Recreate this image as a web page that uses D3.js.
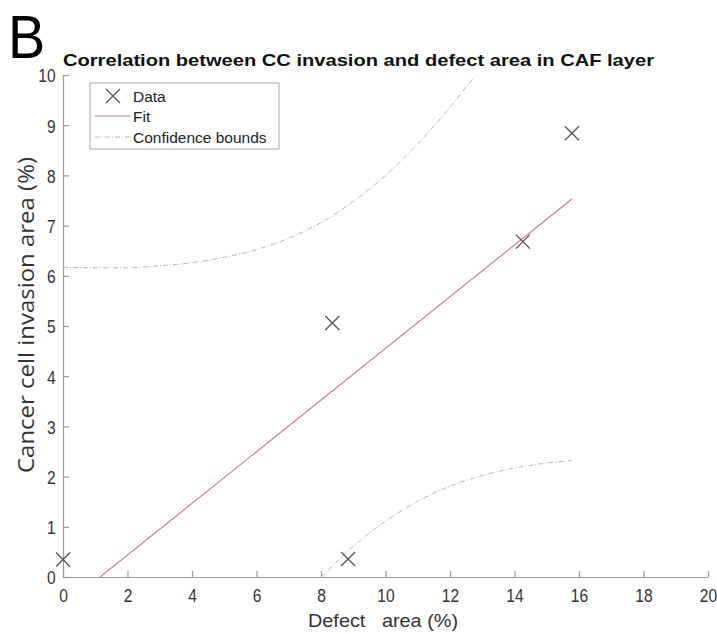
<!DOCTYPE html>
<html><head><meta charset="utf-8">
<script src="https://cdn.jsdelivr.net/npm/d3@7"></script>
<style>
html,body{margin:0;padding:0;background:#fff;}
svg{display:block;font-family:"Liberation Sans",Arial,sans-serif;}
</style></head>
<body>
<svg id="chart" width="717" height="634"></svg>
<script>
// ---- data ----
const dataX = [0, 8.35, 8.84, 14.26, 15.78];
const dataY = [0.35, 5.06, 0.36, 6.68, 8.84];
const fitX = [1.15, 15.78];
const fitY = [0, 7.53];
const upperX = [0, 1, 2, 3, 4, 5, 6, 7, 8, 9, 10, 11, 12, 13];
const upperY = [6.17, 6.16, 6.16, 6.20, 6.26, 6.37, 6.52, 6.75, 7.06, 7.48, 8.00, 8.63, 9.36, 10.17];
const lowerX = [8, 8.5, 9, 10, 11, 12, 13, 14, 15, 15.78];
const lowerY = [0, 0.31, 0.61, 1.11, 1.51, 1.81, 2.02, 2.17, 2.27, 2.32];
const xTicks = [0, 2, 4, 6, 8, 10, 12, 14, 16, 18, 20];
const yTicks = [0, 1, 2, 3, 4, 5, 6, 7, 8, 9, 10];
const legendLabels = ["Data", "Fit", "Confidence bounds"];
const titleText = "Correlation between CC invasion and defect area in CAF layer";
const xLabel = "Defect\u00a0\u00a0 area (%)";
const yLabel = "Cancer cell invasion area (%)";
const panelLetter = "B";

// ---- layout ----
const svg = d3.select("#chart");
const L = 63, R = 708, T = 75, B = 577;
const x = d3.scaleLinear().domain([0, 20]).range([L, R]);
const y = d3.scaleLinear().domain([0, 10]).range([B, T]);

const axisColor = "#9a9a9a", textColor = "#333";

svg.append("defs").append("clipPath").attr("id", "plotclip")
  .append("rect").attr("x", L).attr("y", T).attr("width", R - L).attr("height", B - T);

// panel letter
svg.append("text").attr("transform", "translate(8,58) scale(0.9,1)").attr("font-size", 62)
  .attr("font-family", "'Liberation Sans',Arial,sans-serif")
  .attr("fill", "#000").text(panelLetter);

// title
svg.append("text").attr("x", 63).attr("y", 66).attr("font-size", 17).attr("font-weight", "bold")
  .attr("fill", "#111").attr("textLength", 591).attr("lengthAdjust", "spacingAndGlyphs").text(titleText);

// axes
const xAxis = svg.append("g").attr("transform", `translate(0,${B})`)
  .call(d3.axisBottom(x).tickValues(xTicks).tickSizeInner(-6).tickSizeOuter(0).tickPadding(12));
const yAxis = svg.append("g").attr("transform", `translate(${L},0)`)
  .call(d3.axisLeft(y).tickValues(yTicks).tickSizeInner(-6).tickSizeOuter(0).tickPadding(9));
[xAxis, yAxis].forEach(g => {
  g.select(".domain").attr("stroke", axisColor).attr("stroke-width", 1.2);
  g.selectAll(".tick line").attr("stroke", axisColor).attr("stroke-width", 1.2);
  g.selectAll(".tick text").attr("fill", textColor).style("font-size", "19px")
    .style("font-family", "'Liberation Sans',Arial,sans-serif");
});
xAxis.selectAll(".tick text").attr("transform", "scale(0.82,1)");
yAxis.selectAll(".tick text").attr("transform", "scale(0.82,1)").attr("dy", "0.36em");

// axis labels
svg.append("text").attr("x", 383).attr("y", 627).attr("text-anchor", "middle")
  .attr("font-size", 19).attr("fill", textColor)
  .attr("textLength", 150).attr("lengthAdjust", "spacingAndGlyphs").text(xLabel);
svg.append("text").attr("transform", "translate(34,315) rotate(-90)").attr("text-anchor", "middle")
  .attr("font-size", 21).attr("fill", textColor)
  .attr("font-family", "'Open Sans','Liberation Sans',sans-serif")
  .attr("textLength", 316).attr("lengthAdjust", "spacingAndGlyphs").text(yLabel);

// plot content
const plot = svg.append("g").attr("clip-path", "url(#plotclip)");
const line = d3.line().x(d => x(d[0])).y(d => y(d[1])).curve(d3.curveMonotoneX);

const boundStyle = sel => sel.attr("fill", "none").attr("stroke", "#b8b8b8").attr("stroke-width", 1)
  .attr("stroke-dasharray", "5,2,1,2");
plot.append("path").datum(upperX.map((v, i) => [v, upperY[i]])).attr("d", line).call(boundStyle);
plot.append("path").datum(lowerX.map((v, i) => [v, lowerY[i]])).attr("d", line).call(boundStyle);

plot.append("path").datum(fitX.map((v, i) => [v, fitY[i]])).attr("d", d3.line().x(d => x(d[0])).y(d => y(d[1])))
  .attr("fill", "none").attr("stroke", "#c47c84").attr("stroke-width", 1.1);

const s = 7;
const markers = svg.append("g");
dataX.forEach((v, i) => {
  const cx = x(v), cy = y(dataY[i]);
  markers.append("path")
    .attr("d", `M${cx - s},${cy - s}L${cx + s},${cy + s}M${cx - s},${cy + s}L${cx + s},${cy - s}`)
    .attr("stroke", "#555").attr("stroke-width", 1.3).attr("fill", "none");
});

// legend
const lg = svg.append("g");
lg.append("rect").attr("x", 90).attr("y", 83).attr("width", 189).attr("height", 66)
  .attr("fill", "#fff").attr("stroke", "#aaa").attr("stroke-width", 1);
const rowY = [96, 116, 137];
legendLabels.forEach((t, i) => {
  lg.append("text").attr("x", 133).attr("y", rowY[i]).attr("dy", "0.36em")
    .attr("font-size", 15.5).attr("fill", "#222").text(t);
});
{
  const cx = 113, cy = rowY[0];
  lg.append("path").attr("d", `M${cx - s},${cy - s}L${cx + s},${cy + s}M${cx - s},${cy + s}L${cx + s},${cy - s}`)
    .attr("stroke", "#555").attr("stroke-width", 1.3);
}
lg.append("line").attr("x1", 95).attr("x2", 130).attr("y1", rowY[1]).attr("y2", rowY[1])
  .attr("stroke", "#c47c84").attr("stroke-width", 1.1);
lg.append("line").attr("x1", 95).attr("x2", 130).attr("y1", rowY[2]).attr("y2", rowY[2]).call(boundStyle);
</script>
</body></html>
